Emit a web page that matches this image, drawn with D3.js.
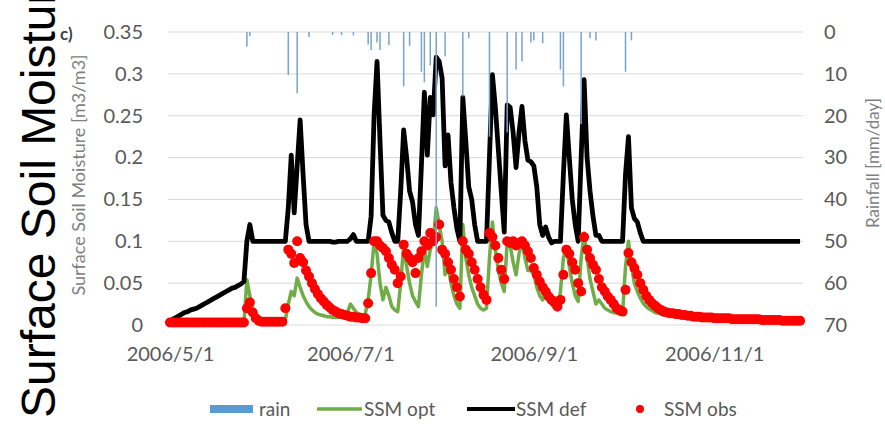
<!DOCTYPE html>
<html><head><meta charset="utf-8">
<script src="https://cdn.jsdelivr.net/npm/d3@7"></script>
<style>html,body{margin:0;padding:0;background:#fff;}svg{display:block;}</style>
</head><body>
<svg id="chart" width="885" height="426"></svg>
<script>
const startDate = "2006/5/1";
const xTickLabels = ["2006/5/1","2006/7/1","2006/9/1","2006/11/1"];
const leftTicks = [0,0.05,0.1,0.15,0.2,0.25,0.3,0.35];
const rightTicks = [0,10,20,30,40,50,60,70];
const seriesNames = ["rain","SSM opt","SSM def","SSM obs"];

const ssmDef = [
.005,.007,.009,.011,.013,.015,.016,.018,.019,.020,
.022,.024,.026,.028,.030,.032,.034,.036,.038,.040,
.042,.044,.045,.047,.049,.052,.100,.120,.100,.100,
.100,.100,.100,.100,.100,.100,.100,.100,.100,.100,
.140,.203,.134,.190,.245,.180,.120,.100,.100,.100,
.100,.100,.100,.100,.100,.099,.099,.100,.100,.100,
.100,.103,.108,.100,.100,.100,.100,.100,.130,.250,
.315,.220,.131,.125,.123,.110,.100,.100,.160,.233,
.200,.160,.147,.120,.107,.191,.278,.203,.272,.251,
.320,.315,.295,.190,.227,.170,.140,.115,.100,.272,
.220,.165,.150,.120,.100,.100,.100,.100,.200,.299,
.260,.210,.160,.111,.263,.260,.230,.188,.230,.261,
.220,.197,.195,.190,.165,.120,.107,.117,.105,.098,
.100,.100,.100,.180,.251,.200,.150,.120,.100,.200,
.293,.200,.160,.130,.107,.107,.100,.100,.100,.100,
.100,.100,.100,.100,.180,.225,.140,.127,.123,.110,
.100,.100,.100,.100,.100,.100,.100,.100,.100,.100,
.100,.100,.100,.100,.100,.100,.100,.100,.100,.100,
.100,.100,.100,.100,.100,.100,.100,.100,.100,.100,
.100,.100,.100,.100,.100,.100,.100,.100,.100,.100,
.100,.100,.100,.100,.100,.100,.100,.100,.100,.100,
.100,.100,.100,.100];

const ssmOpt = [
.002,.002,.002,.002,.002,.002,.002,.002,.002,.002,
.002,.002,.002,.002,.002,.002,.002,.002,.002,.002,
.002,.002,.002,.002,.002,.002,.054,.035,.020,.012,
.008,.006,.005,.005,.005,.005,.005,.005,.005,.006,
.025,.040,.035,.056,.045,.035,.028,.022,.018,.015,
.013,.012,.011,.010,.010,.009,.009,.009,.010,.012,
.015,.025,.020,.015,.012,.012,.013,.030,.060,.099,
.085,.050,.030,.045,.035,.022,.018,.016,.050,.095,
.070,.050,.035,.028,.022,.060,.090,.070,.090,.100,
.140,.120,.100,.060,.070,.050,.035,.025,.020,.120,
.080,.060,.045,.035,.025,.020,.018,.020,.080,.123,
.090,.065,.050,.040,.100,.095,.075,.060,.085,.100,
.080,.065,.065,.060,.045,.035,.030,.045,.035,.025,
.020,.018,.040,.080,.093,.070,.050,.035,.028,.080,
.110,.080,.055,.040,.025,.030,.025,.020,.018,.016,
.015,.014,.013,.013,.070,.100,.070,.050,.040,.032,
.026,.022,.019,.017,.015,.014,.013,.012,.012,.011,
.011,.010,.010,.010,.009,.009,.009,.009,.008,.008,
.008,.008,.008,.008,.008,.008,.008,.008,.008,.008,
.007,.007,.007,.007,.007,.007,.007,.007,.007,.007,
.006,.006,.006,.006,.006,.006,.006,.005,.005,.005,
.005,.005,.005,.005];

const ssmObs = [
.003,.003,.003,.003,.003,.003,.003,.003,.003,.003,
.003,.003,.003,.003,.003,.003,.003,.003,.003,.003,
.003,.003,.003,.003,.003,.003,.020,.027,.015,.008,
.005,.004,.004,.004,.004,.004,.004,.004,.004,.020,
.090,.085,.074,.100,.080,.075,.065,.058,.050,.043,
.037,.032,.028,.024,.021,.018,.016,.014,.013,.012,
.011,.010,.010,.009,.009,.008,.008,.026,.062,.100,
.100,.095,.092,.088,.080,.072,.066,.050,.058,.096,
.085,.080,.075,.062,.080,.088,.100,.095,.110,.100,
.105,.120,.090,.085,.075,.066,.055,.045,.034,.100,
.090,.085,.075,.066,.055,.045,.036,.030,.110,.105,
.095,.080,.066,.055,.100,.098,.100,.095,.098,.100,
.095,.088,.080,.068,.060,.052,.045,.040,.034,.030,
.027,.022,.030,.060,.090,.085,.075,.066,.050,.040,
.105,.090,.080,.072,.066,.055,.045,.040,.034,.030,
.025,.020,.018,.016,.042,.086,.075,.068,.060,.050,
.042,.035,.030,.026,.023,.020,.018,.016,.015,.014,
.014,.013,.013,.012,.012,.011,.011,.010,.010,.010,
.009,.009,.009,.009,.008,.008,.008,.008,.008,.008,
.007,.007,.007,.007,.007,.007,.007,.007,.007,.007,
.006,.006,.006,.006,.006,.006,.006,.005,.005,.005,
.005,.005,.005,.005];

const rainDays = [26,27,40,43,47,55,58,62,67,68,70,71,74,79,81,85,86,88,90,93,99,101,108,114,117,119,122,123,126,132,133,139,142,144,154,156];
const rainMm   = [3.5,1.0,10.3,14.6,1.2,0.7,0.7,0.8,3.0,4.3,2.5,4.3,3.1,13,3.3,9.5,12,8,65.6,5.8,15.4,1.5,25,24,9,7,2.5,2,2.7,9,13,22,1.5,2,9.5,2];

const parse = d3.utcParse("%Y/%m/%d");
const t0 = parse(startDate);
const dayDate = i => d3.utcDay.offset(t0, i);
const half = new Date(t0.getTime() - 12*3600*1000);

const svg = d3.select("#chart");
const x = d3.scaleUtc().domain([half, dayDate(ssmDef.length)]).range([168.5, 803]);
const yL = d3.scaleLinear().domain([0, 0.35]).range([325, 32]);
const yR = d3.scaleLinear().domain([0, 70]).range([32, 325]);

const FONT = "Lato, 'Open Sans', sans-serif";

// gridlines
svg.append("g").selectAll("line").data(leftTicks).join("line")
  .attr("x1", 168).attr("x2", 803)
  .attr("y1", d => yL(d)).attr("y2", d => yL(d))
  .attr("stroke", "#d9d9d9").attr("stroke-width", 1);

// left axis labels
const gL = svg.append("g").attr("transform", "translate(143,0)")
  .call(d3.axisLeft(yL).tickValues(leftTicks).tickSize(0).tickPadding(0).tickFormat(d3.format("")));
gL.select(".domain").remove();
gL.selectAll("text").attr("font-family", FONT).attr("font-size", 20).attr("fill", "#595959");

// right axis labels
const gR = svg.append("g").attr("transform", "translate(824,0)")
  .call(d3.axisRight(yR).tickValues(rightTicks).tickSize(0).tickPadding(0));
gR.select(".domain").remove();
gR.selectAll("text").attr("font-family", FONT).attr("font-size", 20).attr("fill", "#595959");

// bottom axis labels
const gB = svg.append("g").attr("transform", "translate(0,347)")
  .call(d3.axisBottom(x).tickValues(xTickLabels.map(parse)).tickSize(0).tickPadding(0)
    .tickFormat((d, i) => xTickLabels[i]));
gB.select(".domain").remove();
gB.selectAll("text").attr("font-family", FONT).attr("font-size", 20).attr("fill", "#595959");

// axis titles
svg.append("text").attr("transform", "translate(85,175) rotate(-90)")
  .attr("text-anchor", "middle").attr("font-family", FONT).attr("font-size", 18)
  .attr("fill", "#808080").text("Surface Soil Moisture [m3/m3]");
svg.append("text").attr("transform", "translate(879,163) rotate(-90)")
  .attr("text-anchor", "middle").attr("font-family", FONT).attr("font-size", 17)
  .attr("fill", "#808080").text("Rainfall [mm/day]");

// panel label
svg.append("text").attr("x", 60).attr("y", 40).attr("font-family", FONT)
  .attr("font-size", 17).attr("font-weight", "bold").attr("fill", "#404040").text("c)");

// series
const idx = d3.range(ssmDef.length);
const lineOf = arr => d3.line().x(i => x(dayDate(i))).y(i => yL(arr[i]));

svg.append("path").datum(idx).attr("d", lineOf(ssmOpt))
  .attr("fill", "none").attr("stroke", "#70ad47").attr("stroke-width", 3.5)
  .attr("stroke-linejoin", "round");
svg.append("path").datum(idx).attr("d", lineOf(ssmDef))
  .attr("fill", "none").attr("stroke", "#000").attr("stroke-width", 4.8)
  .attr("stroke-linejoin", "round");
svg.append("g").selectAll("circle").data(idx).join("circle")
  .attr("cx", i => x(dayDate(i))).attr("cy", i => yL(ssmObs[i])).attr("r", 5)
  .attr("fill", "#ff0000");

// rain bars (hanging from top, secondary reversed axis)
svg.append("g").selectAll("rect").data(rainDays).join("rect")
  .attr("x", (d) => x(dayDate(d)) - 0.75).attr("width", 1.5)
  .attr("y", yR(0)).attr("height", (d, i) => yR(rainMm[i]) - yR(0))
  .attr("fill", "#7aa3c8");

// legend
const ly = 409;
svg.append("rect").attr("x", 210).attr("y", ly - 4).attr("width", 43).attr("height", 8).attr("fill", "#5b9bd5");
svg.append("line").attr("x1", 317).attr("x2", 362).attr("y1", ly).attr("y2", ly).attr("stroke", "#70ad47").attr("stroke-width", 3.5);
svg.append("line").attr("x1", 467).attr("x2", 515).attr("y1", ly).attr("y2", ly).attr("stroke", "#000").attr("stroke-width", 4);
svg.append("circle").attr("cx", 640).attr("cy", ly).attr("r", 4).attr("fill", "#ff0000");
const legX = [259, 364, 516, 664];
svg.append("g").selectAll("text").data(seriesNames).join("text")
  .attr("x", (d, i) => legX[i]).attr("y", ly).attr("dy", "0.35em")
  .attr("font-family", FONT).attr("font-size", 19).attr("fill", "#595959").text(d => d);

// large overlaid title
svg.append("text").attr("transform", "translate(55,418) rotate(-90)")
  .attr("font-family", "'Liberation Sans', Arial, sans-serif").attr("font-size", 48)
  .attr("fill", "#000").text("Surface Soil Moisture");
</script>
</body></html>
